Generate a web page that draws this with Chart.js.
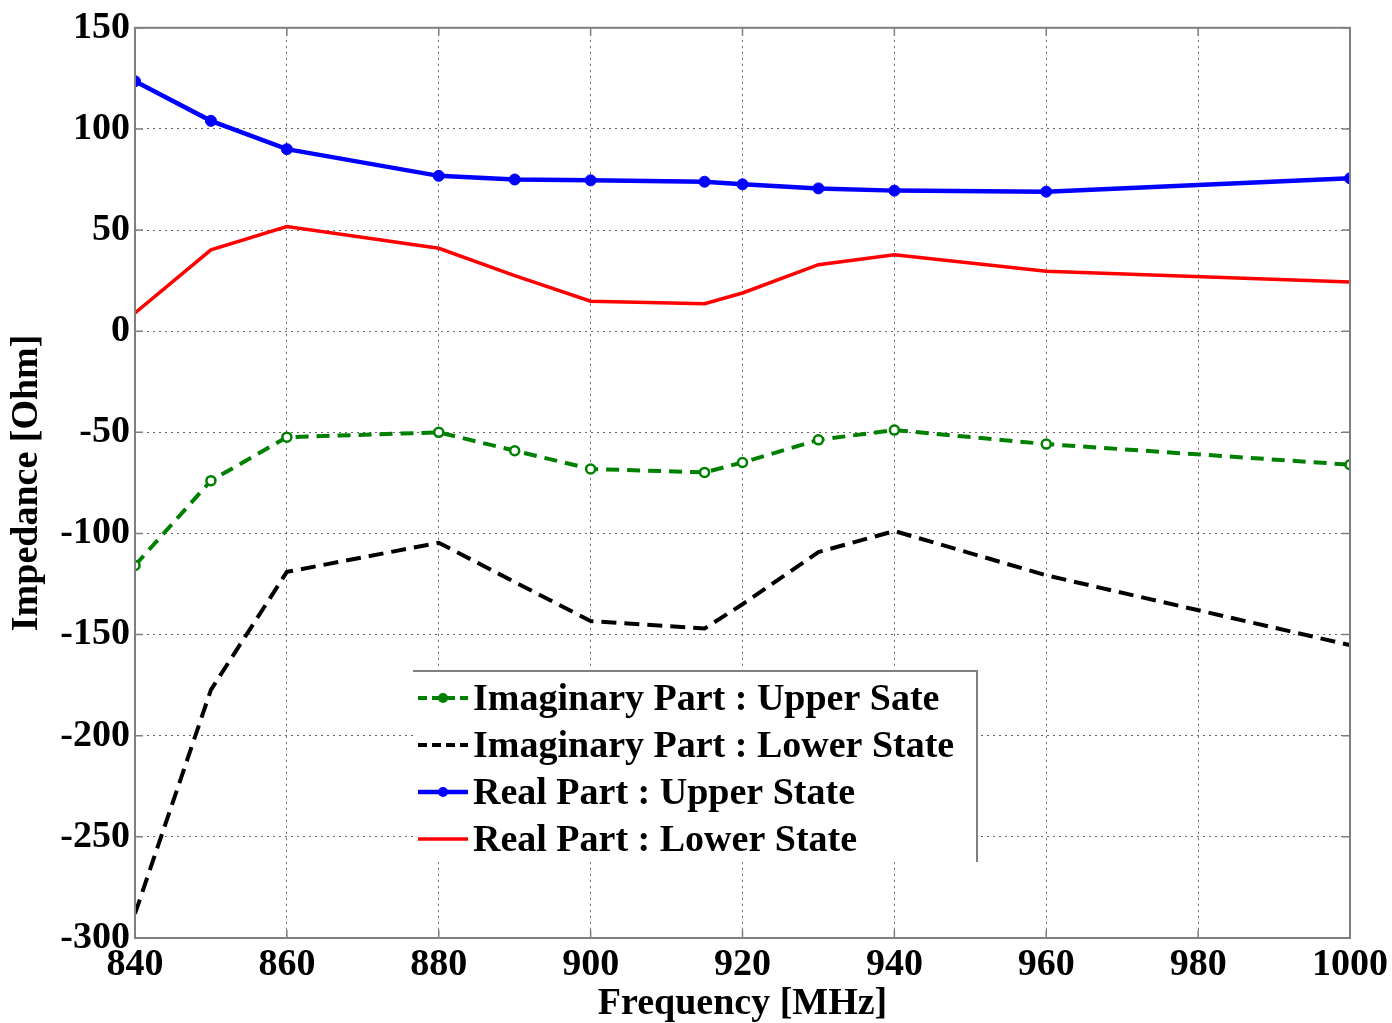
<!DOCTYPE html>
<html><head><meta charset="utf-8">
<script src="https://cdn.jsdelivr.net/npm/chart.js@4.4.0/dist/chart.umd.min.js"></script>
<style>html,body{margin:0;padding:0;background:#fff;}canvas{display:block;}</style>
</head><body>
<canvas id="c" width="1392" height="1023"></canvas>
<script>
// ---- data ----
const frequencies = [840, 850, 860, 880, 890, 900, 915, 920, 930, 940, 960, 1000];
const imagUpper = [-115.8, -73.9, -52.4, -50, -59.1, -68.1, -69.8, -64.9, -53.7, -48.9, -55.8, -66];
const imagLower = [-288, -177.3, -119, -104.6, -124, -143.3, -147, -135, -109.2, -98.8, -120.7, -155.2];
const realUpper = [123.6, 104, 90, 76.8, 75, 74.6, 73.9, 72.6, 70.6, 69.5, 69, 75.6];
const realLower = [9, 40.2, 51.7, 41, 27.5, 14.8, 13.6, 18.9, 32.9, 37.8, 29.6, 24.3];
const seriesNames = [
  'Imaginary Part : Upper Sate',
  'Imaginary Part : Lower State',
  'Real Part : Upper State',
  'Real Part : Lower State'
];
const xTicks = [840, 860, 880, 900, 920, 940, 960, 980, 1000];
const yTicks = [-300, -250, -200, -150, -100, -50, 0, 50, 100, 150];
const xTitle = 'Frequency [MHz]';
const yTitle = 'Impedance [Ohm]';

const FONT = "'Liberation Serif', 'Times New Roman', serif";
const pts = arr => frequencies.map((f, i) => ({x: f, y: arr[i]}));

const frameAndTicks = {
  id: 'frameAndTicks',
  afterDatasetsDraw(chart) {
    const {ctx, chartArea: a, scales} = chart;
    ctx.save();
    ctx.strokeStyle = '#7f7f7f';
    ctx.lineWidth = 1.5;
    const L = 8;
    ctx.beginPath();
    scales.x.ticks.forEach(t => {
      const px = scales.x.getPixelForValue(t.value);
      ctx.moveTo(px, a.bottom); ctx.lineTo(px, a.bottom - L);
      ctx.moveTo(px, a.top); ctx.lineTo(px, a.top + L);
    });
    scales.y.ticks.forEach(t => {
      const py = scales.y.getPixelForValue(t.value);
      ctx.moveTo(a.left, py); ctx.lineTo(a.left + L, py);
      ctx.moveTo(a.right, py); ctx.lineTo(a.right - L, py);
    });
    ctx.stroke();
    ctx.lineWidth = 2;
    ctx.strokeRect(a.left, a.top, a.right - a.left, a.bottom - a.top);
    ctx.restore();
  }
};

const boxLegend = {
  id: 'boxLegend',
  afterDraw(chart) {
    const {ctx} = chart;
    const bx = 413, by = 671, bw = 564, bh = 191;
    ctx.save();
    ctx.fillStyle = '#fff';
    ctx.fillRect(bx, by, bw, bh);
    ctx.strokeStyle = '#7f7f7f';
    ctx.lineWidth = 2;
    ctx.beginPath();
    ctx.moveTo(bx, by); ctx.lineTo(bx + bw, by); ctx.lineTo(bx + bw, by + bh);
    ctx.stroke();
    ctx.font = 'bold 38px ' + FONT;
    ctx.textBaseline = 'middle';
    ctx.textAlign = 'left';
    chart.data.datasets.forEach((ds, i) => {
      const cy = 698 + i * 47;
      ctx.strokeStyle = ds.borderColor;
      ctx.lineWidth = ds.borderWidth;
      ctx.setLineDash(ds.borderDash && ds.borderDash.length ? [9, 5] : []);
      ctx.beginPath();
      ctx.moveTo(418, cy); ctx.lineTo(468, cy);
      ctx.stroke();
      ctx.setLineDash([]);
      if (ds.pointRadius > 0) {
        ctx.fillStyle = ds.borderColor;
        ctx.beginPath();
        ctx.arc(443, cy, 5, 0, Math.PI * 2);
        ctx.fill();
      }
      ctx.fillStyle = '#000';
      ctx.fillText(ds.label, 473, cy + 2);
    });
    ctx.restore();
  }
};

new Chart(document.getElementById('c'), {
  type: 'line',
  data: {
    datasets: [
      {label: seriesNames[0], data: pts(imagUpper), borderColor: '#008000', borderWidth: 4,
       borderDash: [13, 8], pointRadius: 4.5, pointBorderWidth: 2.5,
       pointBackgroundColor: '#ffffff', pointBorderColor: '#008000'},
      {label: seriesNames[1], data: pts(imagLower), borderColor: '#000000', borderWidth: 4,
       borderDash: [15, 8], pointRadius: 0},
      {label: seriesNames[2], data: pts(realUpper), borderColor: '#0000ff', borderWidth: 4.5,
       pointRadius: 5.5, pointBackgroundColor: '#0000ff', pointBorderColor: '#0000ff', pointBorderWidth: 1},
      {label: seriesNames[3], data: pts(realLower), borderColor: '#ff0000', borderWidth: 3.5,
       pointRadius: 0}
    ]
  },
  options: {
    responsive: false,
    animation: false,
    layout: {padding: {top: 27, right: 3, left: 0, bottom: 0}},
    plugins: {legend: {display: false}, tooltip: {enabled: false}},
    elements: {line: {tension: 0}},
    scales: {
      x: {
        type: 'linear', min: 840, max: 1000,
        afterBuildTicks: s => { s.ticks = xTicks.map(v => ({value: v})); },
        afterFit: s => { s.height = 85; },
        ticks: {autoSkip: false, maxRotation: 0, padding: 4, color: '#000',
                callback: v => String(v),
                font: {family: FONT, size: 38, weight: 'bold'}},
        grid: {color: 'rgba(0,0,0,0.6)', lineWidth: 1, drawTicks: false},
        border: {display: false, dash: [2, 4]},
        title: {display: true, text: xTitle, color: '#000', padding: 0,
                font: {family: FONT, size: 38, weight: 'bold', lineHeight: 1.0}}
      },
      y: {
        type: 'linear', min: -300, max: 150,
        afterBuildTicks: s => { s.ticks = yTicks.map(v => ({value: v})); },
        afterFit: s => { s.width = 135; },
        ticks: {padding: 5, color: '#000', callback: v => String(v),
                font: {family: FONT, size: 38, weight: 'bold'}},
        grid: {color: 'rgba(0,0,0,0.6)', lineWidth: 1, drawTicks: false},
        border: {display: false, dash: [2, 4]},
        title: {display: true, text: yTitle, color: '#000', padding: {top: 8, bottom: 0},
                font: {family: FONT, size: 38, weight: 'bold', lineHeight: 1.0}}
      }
    }
  },
  plugins: [frameAndTicks, boxLegend]
});
</script>
</body></html>
